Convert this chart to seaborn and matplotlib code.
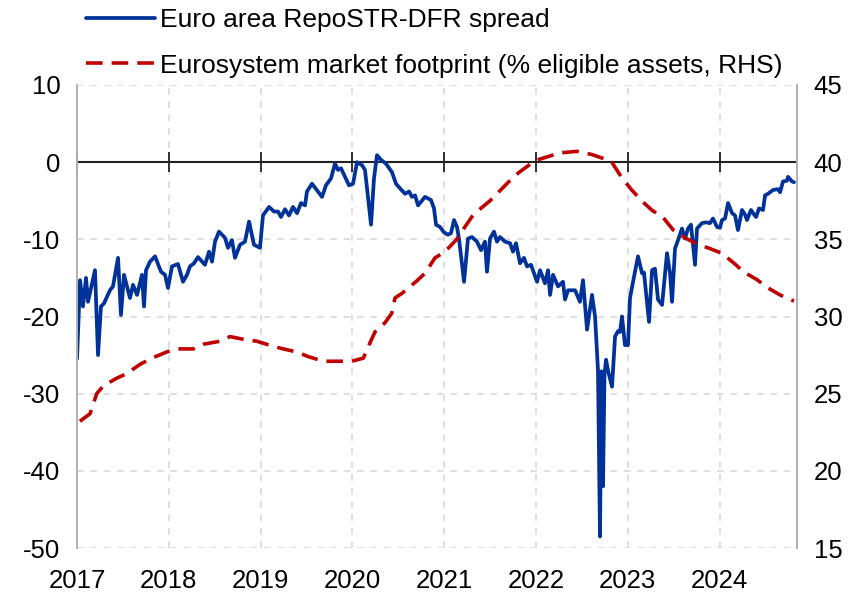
import matplotlib
matplotlib.use("Agg")
import matplotlib.pyplot as plt
import seaborn as sns
import pandas as pd

# Euro area RepoSTR-DFR spread (basis points), x in decimal years
spread_year = [
    2017.000, 2017.033, 2017.065, 2017.098, 2017.120, 2017.196, 2017.229, 2017.261, 2017.294,
    2017.359, 2017.392, 2017.447, 2017.479, 2017.512, 2017.577, 2017.610, 2017.654, 2017.708,
    2017.730, 2017.752, 2017.795, 2017.850, 2017.915, 2017.959, 2017.991,
    2018.035, 2018.100, 2018.155, 2018.198, 2018.231, 2018.275, 2018.318, 2018.394, 2018.438,
    2018.471, 2018.503, 2018.547, 2018.612, 2018.645, 2018.688, 2018.721, 2018.776, 2018.830,
    2018.874, 2018.928, 2018.993,
    2019.026, 2019.092, 2019.146, 2019.190, 2019.222, 2019.266, 2019.309, 2019.353, 2019.397,
    2019.440, 2019.484, 2019.505, 2019.560, 2019.625, 2019.669, 2019.712, 2019.767, 2019.810,
    2019.843, 2019.876, 2019.919, 2019.963,
    2020.007, 2020.050, 2020.105, 2020.137, 2020.203, 2020.235, 2020.268, 2020.312, 2020.366,
    2020.431, 2020.475, 2020.519, 2020.573, 2020.617, 2020.649, 2020.682, 2020.715, 2020.791,
    2020.856, 2020.889, 2020.911, 2020.954, 2020.998,
    2021.041, 2021.074, 2021.107, 2021.139, 2021.161, 2021.216, 2021.259, 2021.303, 2021.357,
    2021.401, 2021.444, 2021.466, 2021.499, 2021.542, 2021.575, 2021.608, 2021.662, 2021.717,
    2021.749, 2021.782, 2021.826, 2021.869, 2021.902, 2021.946,
    2022.011, 2022.044, 2022.098, 2022.131, 2022.153, 2022.185, 2022.240, 2022.294, 2022.316,
    2022.349, 2022.425, 2022.479, 2022.512, 2022.556, 2022.610, 2022.643, 2022.675, 2022.697,
    2022.713, 2022.730, 2022.746, 2022.763, 2022.784, 2022.828, 2022.861, 2022.893, 2022.915,
    2022.937, 2022.969,
    2023.002, 2023.024, 2023.057, 2023.111, 2023.155, 2023.176, 2023.231, 2023.264, 2023.296,
    2023.329, 2023.373, 2023.427, 2023.460, 2023.482, 2023.514, 2023.547, 2023.590, 2023.623,
    2023.656, 2023.688, 2023.732, 2023.754, 2023.808, 2023.852, 2023.895, 2023.928, 2023.972,
    2024.004, 2024.026, 2024.059, 2024.092, 2024.135, 2024.168, 2024.200, 2024.244, 2024.277,
    2024.298, 2024.342, 2024.364, 2024.397, 2024.429, 2024.473, 2024.495, 2024.527, 2024.582,
    2024.636, 2024.658, 2024.691, 2024.734, 2024.745, 2024.789, 2024.810,
]
spread_val = [
    -25.5, -15.3, -18.7, -15.0, -18.1, -14.0, -25.0, -18.7, -18.3,
    -16.6, -16.1, -12.4, -19.8, -14.6, -17.6, -15.9, -17.2, -14.6,
    -18.7, -14.0, -12.9, -12.2, -14.2, -14.6, -16.3,
    -13.5, -13.2, -15.5, -14.6, -13.5, -13.1, -12.3, -13.3, -11.6,
    -12.9, -10.3, -9.0, -9.8, -11.1, -10.1, -12.4, -10.7, -10.3,
    -7.7, -10.7, -11.1,
    -6.9, -5.8, -6.4, -6.4, -7.1, -6.1, -6.9, -5.8, -6.6,
    -5.3, -5.6, -3.8, -2.8, -3.8, -4.5, -3.0, -2.1, -0.2,
    -1.0, -0.8, -1.9, -3.0,
    -2.8, 0.0, -0.4, -1.0, -8.1, -2.1, 0.9, 0.3, -0.2,
    -1.3, -2.8, -3.4, -4.1, -3.8, -4.5, -4.3, -5.6, -4.5,
    -4.9, -6.0, -8.1, -8.4, -9.1,
    -9.4, -9.2, -7.5, -8.4, -9.9, -15.5, -9.9, -9.7, -10.3,
    -11.4, -10.3, -14.2, -9.9, -9.0, -10.3, -9.7, -10.3, -10.5,
    -11.6, -10.5, -13.1, -12.4, -13.5, -13.3,
    -15.5, -14.0, -15.7, -14.0, -17.2, -14.6, -16.1, -15.5, -17.8,
    -16.6, -16.6, -18.1, -15.3, -21.7, -17.2, -20.0, -26.9, -48.5,
    -27.1, -42.0, -27.5, -25.6, -27.0, -29.1, -22.6, -21.9, -22.0,
    -20.0, -23.7,
    -23.7, -17.6, -15.5, -12.2, -14.4, -14.3, -20.7, -14.0, -13.8,
    -17.8, -18.5, -11.8, -14.4, -18.1, -11.2, -10.1, -8.6, -9.9,
    -8.6, -8.1, -13.3, -8.6, -7.9, -7.8, -7.9, -7.3, -8.4,
    -8.5, -7.5, -7.3, -5.3, -6.6, -6.9, -8.8, -6.2, -6.8,
    -7.5, -6.2, -6.6, -7.1, -6.0, -6.2, -4.3, -4.1, -3.6,
    -3.5, -3.9, -2.5, -2.4, -1.9, -2.5, -2.6,
]

# Eurosystem market footprint (% of eligible assets, RHS)
footprint_year = [
    2017.033, 2017.051, 2017.142, 2017.215, 2017.286, 2017.432, 2017.541, 2017.686, 2017.814,
    2017.977, 2018.086, 2018.267, 2018.376, 2018.558, 2018.667, 2018.830, 2018.958, 2019.121,
    2019.247, 2019.393, 2019.520, 2019.683, 2019.829, 2019.992, 2020.119, 2020.192, 2020.246,
    2020.355, 2020.428, 2020.464, 2020.540, 2020.700, 2020.791, 2020.900, 2021.009, 2021.136,
    2021.191, 2021.317, 2021.499, 2021.698, 2021.807, 2021.989, 2022.098, 2022.261, 2022.443,
    2022.607, 2022.752, 2022.825, 2022.934, 2023.042, 2023.169, 2023.260, 2023.387, 2023.496,
    2023.623, 2023.751, 2023.895, 2024.023, 2024.168, 2024.258, 2024.404, 2024.513, 2024.658,
    2024.767, 2024.810,
]
footprint_val = [
    23.2, 23.3, 23.7, 25.0, 25.5, 26.0, 26.3, 26.9, 27.3,
    27.7, 27.9, 27.9, 28.2, 28.4, 28.7, 28.5, 28.4, 28.1,
    27.9, 27.7, 27.4, 27.1, 27.1, 27.1, 27.3, 28.3, 29.0,
    29.6, 30.2, 31.2, 31.5, 32.3, 32.8, 33.8, 34.2, 35.0,
    35.5, 36.6, 37.5, 38.7, 39.3, 40.1, 40.3, 40.6, 40.7,
    40.5, 40.2, 40.0, 39.0, 38.2, 37.4, 36.9, 36.4, 35.6,
    35.1, 34.7, 34.4, 34.1, 33.4, 32.9, 32.4, 31.9, 31.4,
    31.1, 31.0,
]

years = list(range(2017, 2025))
left_ticks = [-50, -40, -30, -20, -10, 0, 10]
right_ticks = [15, 20, 25, 30, 35, 40, 45]

c_blue = "#003299"
c_red = "#c00000"
c_grid = "#d9d9d9"

sns.set_style("white")
plt.rcParams["font.family"] = ["Liberation Sans", "DejaVu Sans"]
plt.rcParams["font.size"] = 18.5
plt.rcParams["text.color"] = "black"
plt.rcParams["xtick.color"] = "black"
plt.rcParams["ytick.color"] = "black"

spread = pd.DataFrame({"year": spread_year, "value": spread_val})
footprint = pd.DataFrame({"year": footprint_year, "value": footprint_val})

fig = plt.figure(figsize=(8.56, 5.95), dpi=100)
ax = fig.add_axes([77 / 856, 1 - 548 / 595, 720 / 856, 463 / 595])
ax2 = ax.twinx()

sns.lineplot(data=spread, x="year", y="value", ax=ax, color=c_blue,
             linewidth=2.7, label="Euro area RepoSTR-DFR spread", legend=False)
sns.lineplot(data=footprint, x="year", y="value", ax=ax2, color=c_red,
             linewidth=2.6, label="Eurosystem market footprint (% eligible assets, RHS)",
             legend=False)
ax2.lines[-1].set_dashes((4.6, 2.5))

ax.set_xlim(2017, 2024.843)
ax.set_ylim(-50, 10)
ax2.set_ylim(15, 45)

# grid
for yr in years:
    ax.axvline(yr, color=c_grid, lw=1.2, ls=(0, (4, 4)), zorder=0)
for v in left_ticks:
    ax.axhline(v, color=c_grid, lw=1.2, ls=(0, (4, 4)), zorder=0)
ax.axhline(0, color="#222222", lw=1.5, zorder=1)

ax.set_xticks(years)
ax.set_xticklabels([str(y) for y in years])
ax.tick_params(axis="x", length=0, pad=15, labelcolor="black")
ax.set_yticks(left_ticks)
ax.set_yticklabels([str(v) for v in left_ticks])
ax.tick_params(axis="y", length=0, pad=12, labelcolor="black")
ax2.set_yticks(right_ticks)
ax2.tick_params(axis="y", length=0, pad=12, labelcolor="black")
ax.set_xlabel("")
ax.set_ylabel("")
ax2.set_ylabel("")

# tick marks sit on the zero line
sec = ax.secondary_xaxis(50 / 60)
sec.set_xticks(years)
sec.tick_params(axis="x", direction="inout", length=14, width=1.3,
                color="#222222", labelbottom=False, labeltop=False)
sec.spines["top"].set_visible(False)
sec.spines["bottom"].set_visible(False)

for side in ["top", "bottom"]:
    ax.spines[side].set_visible(False)
    ax2.spines[side].set_visible(False)
for a in (ax, ax2):
    a.spines["left"].set_color("#b0b0b0")
    a.spines["right"].set_color("#b0b0b0")
    a.spines["left"].set_linewidth(1.2)
    a.spines["right"].set_linewidth(1.2)

handles = ax.lines[:1] + ax2.lines[-1:]
labels = [h.get_label() for h in handles]
fig.legend(handles, labels, loc="upper left", bbox_to_anchor=(73 / 856, 1.008),
           frameon=False, handlelength=2.6, handletextpad=0.2,
           labelspacing=0.8, borderpad=0.0, fontsize=19)

fig.savefig("out.png", dpi=100)
